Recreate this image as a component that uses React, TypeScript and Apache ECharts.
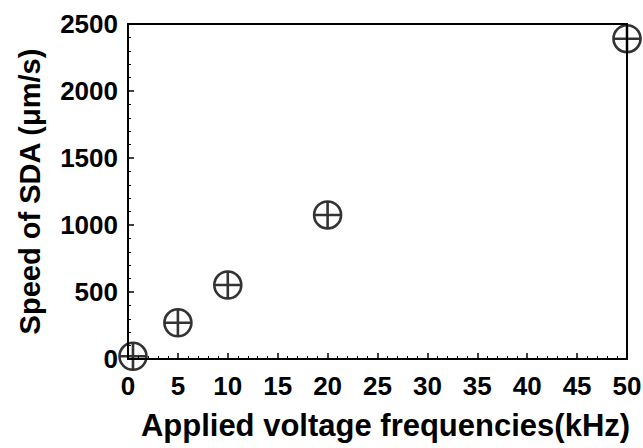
import React, { useEffect, useRef } from "react";
import * as echarts from "echarts";

const frequencies = [0.5, 5, 10, 20, 50];
const speeds = [20, 270, 552, 1075, 2390];
const xTicks = [0, 50, 5];
const yTicks = [0, 2500, 500];

const symbolPath =
  "path://M-10,0 A10,10 0 1,1 10,0 A10,10 0 1,1 -10,0 Z M-9.5,0 L9.5,0 M0,-9.5 L0,9.5";

export default function App() {
  const ref = useRef<HTMLDivElement>(null);
  useEffect(() => {
    if (!ref.current) return;
    const chart = echarts.init(ref.current, null, { renderer: "svg" });
    const font = "'Liberation Sans', Arial, sans-serif";
    chart.setOption({
      animation: false,
      backgroundColor: "#fff",
      grid: {
        left: 128, top: 24, right: 16, bottom: 89,
        outerBoundsMode: "none", containLabel: false,
        show: true, borderColor: "#000", borderWidth: 2,
      },
      xAxis: {
        type: "value",
        min: xTicks[0],
        max: xTicks[1],
        interval: xTicks[2],
        name: "Applied voltage frequencies(kHz)",
        nameLocation: "middle",
        nameGap: 51,
        nameTextStyle: { fontFamily: font, fontWeight: "bold", fontSize: 31, color: "#000", padding: [0, 0, 0, 16] },
        axisLine: { lineStyle: { color: "#000", width: 2 } },
        axisTick: { inside: true, length: 6, lineStyle: { color: "#000", width: 1.5 } },
        minorTick: { show: true, splitNumber: 5, length: 3, lineStyle: { color: "#000", width: 1 } },
        axisLabel: { fontFamily: font, fontWeight: "bold", fontSize: 26, color: "#000", margin: 14, formatter: (v: number) => String(v) },
        splitLine: { show: false },
      },
      yAxis: {
        type: "value",
        min: yTicks[0],
        max: yTicks[1],
        interval: yTicks[2],
        name: "Speed of SDA (μm/s)",
        nameLocation: "middle",
        nameGap: 84,
        nameTextStyle: { fontFamily: font, fontWeight: "bold", fontSize: 29, color: "#000" },
        axisLine: { lineStyle: { color: "#000", width: 2 } },
        axisTick: { inside: true, length: 6, lineStyle: { color: "#000", width: 1.5 } },
        minorTick: { show: true, splitNumber: 5, length: 3, lineStyle: { color: "#000", width: 1 } },
        axisLabel: { fontFamily: font, fontWeight: "bold", fontSize: 26, color: "#000", margin: 10, formatter: (v: number) => String(v) },
        splitLine: { show: false },
      },
      series: [
        {
          type: "scatter",
          data: frequencies.map((f, i) => [f, speeds[i]]),
          symbol: symbolPath,
          symbolSize: 27,
          clip: false,
          itemStyle: { color: "transparent", borderColor: "#000", borderWidth: 2.6 },
        },
      ],
    });
    return () => chart.dispose();
  }, []);
  return <div ref={ref} style={{ width: 643, height: 448, position: "absolute", left: 0, top: 0 }} />;
}
